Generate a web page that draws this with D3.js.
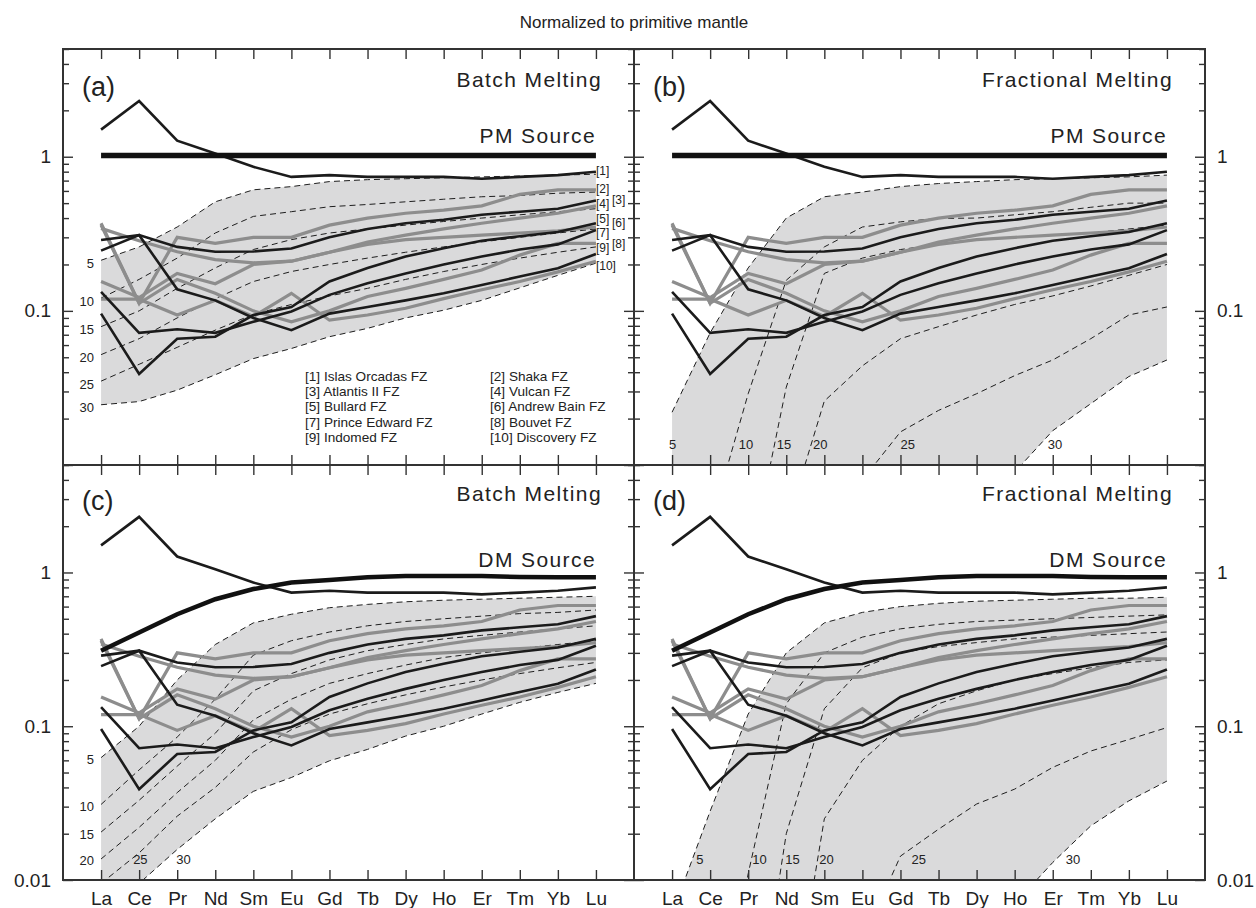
<!DOCTYPE html>
<html><head><meta charset="utf-8">
<script src="https://cdn.jsdelivr.net/npm/d3@7"></script>
<style>
body{margin:0;background:#fff}
text{font-family:"Liberation Sans",Arial,sans-serif;fill:#222}
</style>
</head><body>
<svg id="chart" width="1256" height="908"></svg>
<script>
// ---------------- data ----------------
const elements = ["La","Ce","Pr","Nd","Sm","Eu","Gd","Tb","Dy","Ho","Er","Tm","Yb","Lu"];
const meltPercents = ["5","10","15","20","25","30"];
const majorTicks = [0.01, 0.1, 1];
const majorTickLabels = ["0.01", "0.1", "1"];
const minorTicks = [0.02,0.03,0.04,0.05,0.06,0.07,0.08,0.09,0.2,0.3,0.4,0.5,0.6,0.7,0.8,0.9,2,3,4,5];

const fzNames = ["Islas Orcadas FZ","Shaka FZ","Atlantis II FZ","Vulcan FZ","Bullard FZ",
                 "Andrew Bain FZ","Prince Edward FZ","Bouvet FZ","Indomed FZ","Discovery FZ"];
const fz1  = [1.5, 2.3, 1.27, 1.05, 0.86, 0.74, 0.76, 0.74, 0.74, 0.74, 0.72, 0.74, 0.76, 0.80];
const fz2  = [0.37, 0.112, 0.30, 0.274, 0.30, 0.30, 0.36, 0.40, 0.43, 0.45, 0.48, 0.57, 0.61, 0.61];
const fz3  = [0.288, 0.31, 0.26, 0.242, 0.243, 0.254, 0.30, 0.34, 0.37, 0.39, 0.42, 0.44, 0.46, 0.52];
const fz4  = [0.343, 0.285, 0.242, 0.215, 0.205, 0.21, 0.24, 0.28, 0.31, 0.34, 0.37, 0.40, 0.43, 0.48];
const fz5  = [0.096, 0.039, 0.066, 0.068, 0.094, 0.106, 0.155, 0.19, 0.225, 0.255, 0.285, 0.305, 0.325, 0.37];
const fz6  = [0.155, 0.122, 0.175, 0.15, 0.20, 0.21, 0.24, 0.27, 0.29, 0.30, 0.31, 0.32, 0.33, 0.35];
const fz7  = [0.133, 0.072, 0.076, 0.072, 0.085, 0.099, 0.127, 0.151, 0.175, 0.20, 0.225, 0.25, 0.27, 0.334];
const fz8  = [0.36, 0.112, 0.16, 0.13, 0.10, 0.085, 0.10, 0.124, 0.14, 0.16, 0.184, 0.23, 0.274, 0.274];
const fz9  = [0.246, 0.31, 0.138, 0.117, 0.09, 0.075, 0.096, 0.106, 0.117, 0.13, 0.147, 0.167, 0.189, 0.234];
const fz10 = [0.119, 0.119, 0.094, 0.117, 0.092, 0.13, 0.087, 0.094, 0.104, 0.12, 0.137, 0.155, 0.179, 0.21];
const samples = [fz1, fz2, fz3, fz4, fz5, fz6, fz7, fz8, fz9, fz10];

const pmSource = [1.02,1.02,1.02,1.02,1.02,1.02,1.02,1.02,1.02,1.02,1.02,1.02,1.02,1.02];
const dmSource = [0.31, 0.407, 0.535, 0.67, 0.78, 0.86, 0.895, 0.93, 0.95, 0.95, 0.95, 0.935, 0.93, 0.93];

// model residues, melting degree 5..30 %
const batchPM = [
  [0.213, 0.26, 0.35, 0.51, 0.61, 0.64, 0.69, 0.71, 0.72, 0.73, 0.74, 0.75, 0.76, 0.77],
  [0.121, 0.16, 0.22, 0.32, 0.41, 0.44, 0.474, 0.49, 0.51, 0.53, 0.55, 0.56, 0.58, 0.59],
  [0.079, 0.10, 0.14, 0.19, 0.25, 0.29, 0.32, 0.34, 0.36, 0.38, 0.40, 0.42, 0.44, 0.46],
  [0.052, 0.066, 0.09, 0.12, 0.155, 0.18, 0.20, 0.22, 0.24, 0.26, 0.28, 0.30, 0.32, 0.34],
  [0.035, 0.045, 0.058, 0.075, 0.095, 0.11, 0.125, 0.14, 0.16, 0.18, 0.20, 0.22, 0.24, 0.26],
  [0.0246, 0.0258, 0.0306, 0.0385, 0.049, 0.057, 0.068, 0.077, 0.09, 0.101, 0.117, 0.141, 0.17, 0.204]
];
const fracPM = [
  [0.022, 0.072, 0.19, 0.40, 0.55, 0.59, 0.64, 0.67, 0.69, 0.71, 0.72, 0.73, 0.74, 0.76],
  [0.0006, 0.004, 0.029, 0.158, 0.26, 0.35, 0.378, 0.398, 0.40, 0.42, 0.44, 0.47, 0.50, 0.50],
  [0.0001, 0.0001, 0.002, 0.032, 0.175, 0.22, 0.25, 0.27, 0.29, 0.30, 0.31, 0.32, 0.34, 0.36],
  [0.0001, 0.0001, 0.0001, 0.004, 0.026, 0.044, 0.066, 0.079, 0.094, 0.11, 0.125, 0.145, 0.17, 0.20],
  [0.0001, 0.0001, 0.0001, 0.0001, 0.0005, 0.008, 0.0164, 0.0226, 0.029, 0.038, 0.048, 0.066, 0.094, 0.106],
  [0.0001, 0.0001, 0.0001, 0.0001, 0.0001, 0.0001, 0.0002, 0.0005, 0.001, 0.009, 0.0167, 0.025, 0.0375, 0.048]
];
const batchDM = [
  [0.0625, 0.10, 0.20, 0.34, 0.47, 0.535, 0.59, 0.62, 0.645, 0.66, 0.67, 0.68, 0.69, 0.70],
  [0.031, 0.052, 0.085, 0.15, 0.29, 0.36, 0.41, 0.45, 0.48, 0.50, 0.52, 0.54, 0.55, 0.57],
  [0.0205, 0.033, 0.055, 0.09, 0.17, 0.22, 0.27, 0.31, 0.34, 0.37, 0.39, 0.41, 0.43, 0.45],
  [0.0137, 0.022, 0.037, 0.06, 0.11, 0.15, 0.19, 0.22, 0.25, 0.28, 0.30, 0.32, 0.34, 0.36],
  [0.0095, 0.015, 0.026, 0.04, 0.068, 0.095, 0.12, 0.14, 0.16, 0.18, 0.20, 0.22, 0.24, 0.26],
  [0.0065, 0.0095, 0.0158, 0.025, 0.0377, 0.0464, 0.0596, 0.0707, 0.0863, 0.10, 0.12, 0.143, 0.166, 0.19]
];
const fracDM = [
  [0.006, 0.028, 0.12, 0.30, 0.47, 0.55, 0.60, 0.63, 0.65, 0.66, 0.67, 0.68, 0.68, 0.69],
  [0.0001, 0.0005, 0.011, 0.14, 0.30, 0.38, 0.43, 0.46, 0.48, 0.49, 0.50, 0.51, 0.52, 0.53],
  [0.0001, 0.0001, 0.0005, 0.02, 0.13, 0.24, 0.30, 0.33, 0.35, 0.37, 0.38, 0.39, 0.40, 0.41],
  [0.0001, 0.0001, 0.0001, 0.0008, 0.025, 0.06, 0.10, 0.14, 0.17, 0.20, 0.22, 0.24, 0.26, 0.27],
  [0.0001, 0.0001, 0.0001, 0.0001, 0.0002, 0.004, 0.0143, 0.0214, 0.0312, 0.039, 0.054, 0.069, 0.082, 0.098],
  [0.0001, 0.0001, 0.0001, 0.0001, 0.0001, 0.0001, 0.0002, 0.0005, 0.001, 0.007, 0.013, 0.0225, 0.0327, 0.044]
];

// ---------------- layout ----------------
const svg = d3.select("#chart");
const XL = 63, XM = 634, XR = 1205, YT = 49, YM = 465, YB = 880;
const BLACK = "#1b1b1b", GRAY = "#8d8d8d", FRAME = "#333";

svg.append("text").attr("x", 634).attr("y", 28).attr("text-anchor", "middle")
  .style("font-size", "17px").text("Normalized to primitive mantle");

const panels = [
  {id:"a", x0:XL, x1:XM, y0:YT, y1:YM, method:"Batch Melting", source:"PM Source", src:pmSource, srcW:5.5, curves:batchPM, side:"left", bottomLabels:false, zeroLabel:false},
  {id:"b", x0:XM, x1:XR, y0:YT, y1:YM, method:"Fractional Melting", source:"PM Source", src:pmSource, srcW:5.5, curves:fracPM, side:"right", bottomLabels:false, zeroLabel:false},
  {id:"c", x0:XL, x1:XM, y0:YM, y1:YB, method:"Batch Melting", source:"DM Source", src:dmSource, srcW:4.5, curves:batchDM, side:"left", bottomLabels:true, zeroLabel:true},
  {id:"d", x0:XM, x1:XR, y0:YM, y1:YB, method:"Fractional Melting", source:"DM Source", src:dmSource, srcW:4.5, curves:fracDM, side:"right", bottomLabels:true, zeroLabel:true}
];

function drawPanel(p) {
  const x = d3.scalePoint().domain(elements).range([p.x0, p.x1]).padding(1);
  const y = d3.scaleLog().domain([0.01, 5]).range([p.y1, p.y0]);
  const g = svg.append("g");
  const clipId = "clip-" + p.id;
  svg.append("clipPath").attr("id", clipId).append("rect")
    .attr("x", p.x0).attr("y", p.y0).attr("width", p.x1 - p.x0).attr("height", p.y1 - p.y0);
  const plot = g.append("g").attr("clip-path", `url(#${clipId})`);

  const top = p.curves[0], bot = p.curves[p.curves.length - 1];
  const area = d3.area().x((d, i) => x(elements[i])).y0((d, i) => y(bot[i])).y1(d => y(d));
  plot.append("path").datum(top).attr("d", area).attr("fill", "#dadadb");

  const line = d3.line().x((d, i) => x(elements[i])).y(d => y(d));
  p.curves.forEach(c => plot.append("path").datum(c).attr("d", line)
    .attr("fill", "none").attr("stroke", "#1e1e1e").attr("stroke-width", 1)
    .attr("stroke-dasharray", "6,4"));

  const order = [1,3,5,7,9,0,2,4,6,8];
  order.forEach(i => {
    const isBlack = i % 2 === 0;
    plot.append("path").datum(samples[i]).attr("d", line).attr("fill", "none")
      .attr("stroke", isBlack ? BLACK : GRAY).attr("stroke-width", isBlack ? 2.6 : 3.2)
      .attr("stroke-linejoin", "miter");
  });
  plot.append("path").datum(p.src).attr("d", line).attr("fill", "none")
    .attr("stroke", "#111").attr("stroke-width", p.srcW);

  const fmt = d => {
    const k = majorTicks.indexOf(d);
    if (k < 0) return "";
    if (d === 0.01 && !p.zeroLabel) return "";
    return majorTickLabels[k];
  };
  const styleAxis = sel => {
    sel.select(".domain").remove();
    sel.selectAll(".tick line").attr("stroke", FRAME).attr("stroke-width", 1.4);
    sel.selectAll(".tick text").style("font-size", "19px").attr("fill", "#222");
  };
  const leftMajor = d3.axisLeft(y).tickValues(majorTicks).tickSize(-10).tickPadding(12)
    .tickFormat(p.side === "left" ? fmt : () => "");
  g.append("g").attr("transform", `translate(${p.x0},0)`).call(leftMajor).call(styleAxis);
  g.append("g").attr("transform", `translate(${p.x0},0)`)
    .call(d3.axisLeft(y).tickValues(minorTicks).tickSize(-6).tickFormat("")).call(styleAxis);
  const rightMajor = d3.axisRight(y).tickValues(majorTicks).tickSize(-10).tickPadding(12)
    .tickFormat(p.side === "right" ? fmt : () => "");
  g.append("g").attr("transform", `translate(${p.x1},0)`).call(rightMajor).call(styleAxis);
  g.append("g").attr("transform", `translate(${p.x1},0)`)
    .call(d3.axisRight(y).tickValues(minorTicks).tickSize(-6).tickFormat("")).call(styleAxis);
  g.append("g").attr("transform", `translate(0,${p.y0})`)
    .call(d3.axisTop(x).tickSize(-10).tickFormat("")).call(styleAxis);
  const bAxis = d3.axisBottom(x).tickSize(-10).tickPadding(12);
  if (!p.bottomLabels) bAxis.tickFormat("");
  g.append("g").attr("transform", `translate(0,${p.y1})`).call(bAxis).call(styleAxis);

  g.append("rect").attr("x", p.x0).attr("y", p.y0).attr("width", p.x1 - p.x0).attr("height", p.y1 - p.y0)
    .attr("fill", "none").attr("stroke", FRAME).attr("stroke-width", 2);

  const top0 = p.y0 === YT;
  g.append("text").attr("x", p.x0 + 19).attr("y", p.y0 + (top0 ? 47 : 45))
    .style("font-size", "27px").text("(" + p.id + ")");
  const rx = p.x1 - 32;
  g.append("text").attr("x", rx).attr("y", p.y0 + (top0 ? 38 : 36)).attr("text-anchor", "end")
    .style("font-size", "21px").style("letter-spacing", "1.4px").text(p.method);
  g.append("text").attr("x", rx - 6).attr("y", p.y0 + (top0 ? 94 : 102)).attr("text-anchor", "end")
    .style("font-size", "21px").style("letter-spacing", "1.4px").text(p.source);

  return {x, y, g};
}

const drawn = panels.map(drawPanel);

function meltLabel(pi, k, xpos, ypos, anchor) {
  drawn[pi].g.append("text").attr("x", xpos).attr("y", ypos).attr("text-anchor", anchor || "start")
    .attr("dominant-baseline", "middle").style("font-size", "13px").text(meltPercents[k]);
}
{
  const {x, y} = drawn[0];
  batchPM.forEach((c, k) => meltLabel(0, k, x("La") - 7, y(c[0]) + 4, "end"));
}
{
  const {x} = drawn[1];
  const step = x.step();
  const pos = [x("La") - 3, x("Ce") + 0.75*step, x("Pr") + 0.75*step, x("Nd") + 0.7*step, x("Gd"), x("Er") - 5];
  pos.forEach((px, k) => meltLabel(1, k, px, 446));
}
{
  const {x, y} = drawn[2];
  [0,1,2,3].forEach(k => meltLabel(2, k, x("La") - 7, y(batchDM[k][0]) + 3, "end"));
  meltLabel(2, 4, x("Ce") - 6, 861);
  meltLabel(2, 5, x("Pr") - 1, 861);
}
{
  const {x} = drawn[3];
  const pos = [x("Ce") - 14, x("Pr") + 4, x("Nd") - 1, x("Sm") - 5, x("Gd") + 11, x("Tm") - 25];
  pos.forEach((px, k) => meltLabel(3, k, px, 861));
}

{
  const {x, g} = drawn[0];
  const lu = x("Lu");
  const labelX = [0, 0, 16, 0, 0, 16, 0, 16, 0, 0];
  const labelY = [171.7, 190, 200.5, 204.5, 220, 223.5, 234, 245, 248.5, 266.7];
  samples.forEach((s, i) => {
    g.append("text").attr("x", lu + labelX[i]).attr("y", labelY[i])
      .attr("dominant-baseline", "middle").style("font-size", "12px").text("[" + (i + 1) + "]");
  });
  fzNames.forEach((n, i) => {
    const col = i % 2, row = Math.floor(i / 2);
    g.append("text").attr("x", col ? 490 : 305).attr("y", 381 + row * 15.2)
      .style("font-size", "13.6px").text("[" + (i + 1) + "] " + n);
  });
}
</script>
</body></html>
